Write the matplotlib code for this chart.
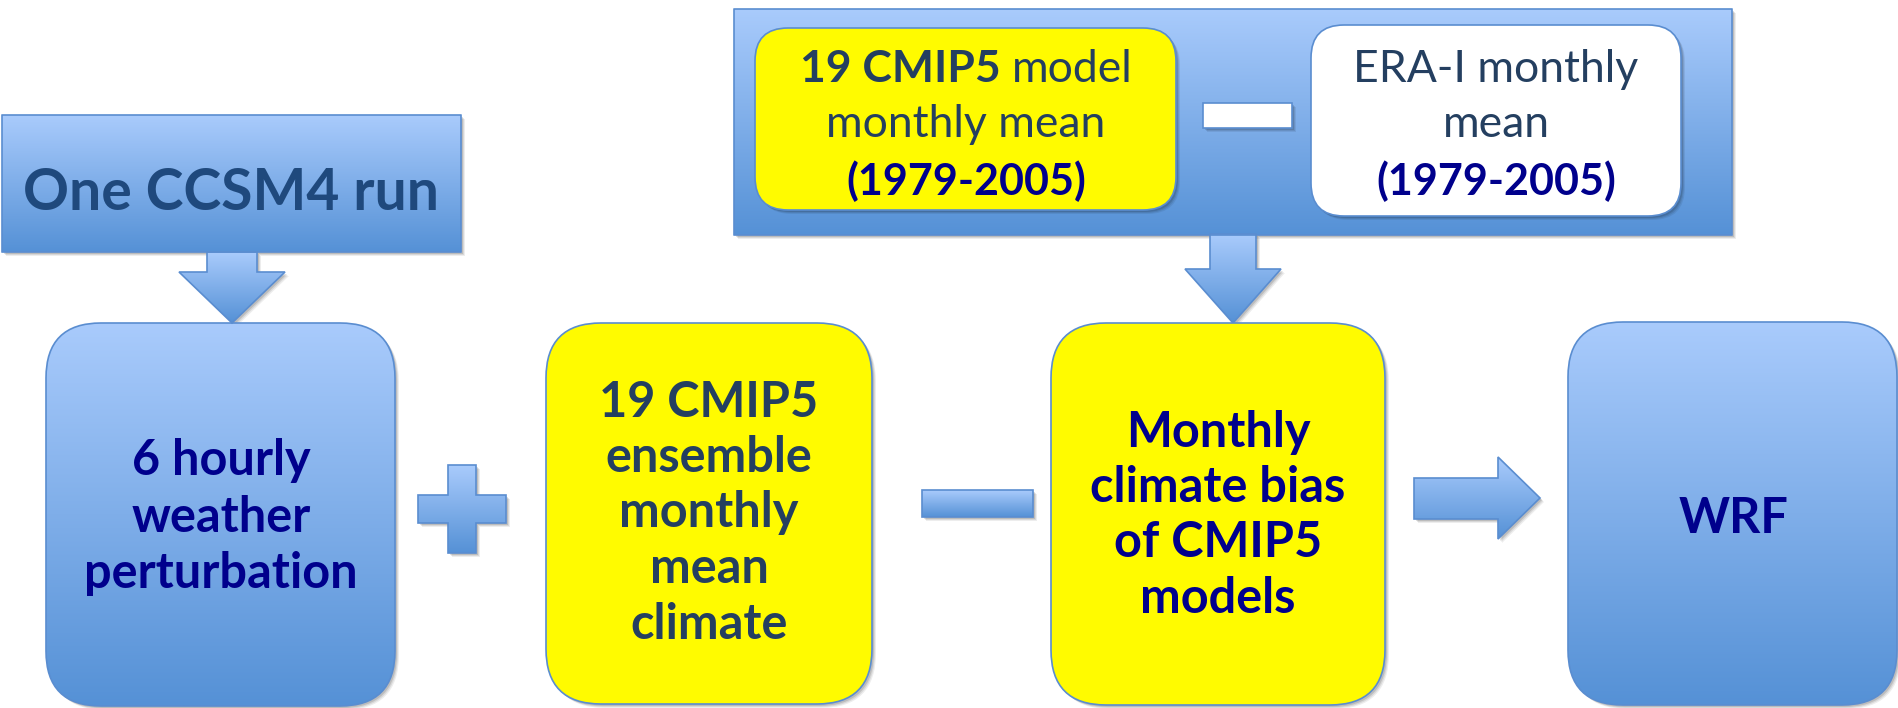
import numpy as np
import matplotlib
matplotlib.use("Agg")
import matplotlib.pyplot as plt
from matplotlib import font_manager
from matplotlib.colors import to_rgb
from matplotlib.patches import FancyBboxPatch, Polygon

# ---- text content ----
source_label = "One CCSM4 run"
weather_lines = ["6 hourly", "weather", "perturbation"]
ensemble_lines = ["19 CMIP5", "ensemble", "monthly", "mean", "climate"]
bias_lines = ["Monthly", "climate bias", "of CMIP5", "models"]
wrf_label = "WRF"
model_bold, model_rest = "19 CMIP5", "model"
model_lines = ["monthly mean", "(1979-2005)"]
era_lines = ["ERA-I monthly", "mean", "(1979-2005)"]

BLUE_TOP = "#a9cbfc"
BLUE_BOT = "#5591d6"
EDGE = "#5a8dd0"
YELLOW = "#fffb00"
NAVY = "#00008c"
SLATE = "#243f60"
HEAD = "#1f497d"


def pick_font():
    for name in ["Liberation Sans Narrow", "Lato"]:
        try:
            font_manager.findfont(name, fallback_to_default=False)
            return name
        except Exception:
            pass
    return "DejaVu Sans"


FONT = pick_font()
plt.rcParams["font.family"] = [FONT, "DejaVu Sans"]

fig = plt.figure(figsize=(18.99, 7.08), dpi=100)
ax = fig.add_axes([0, 0, 1, 1])
ax.axis("off")


def gradient(patch, bounds, top=BLUE_TOP, bot=BLUE_BOT, z=2):
    x0, y0, x1, y1 = bounds
    t = np.linspace(0, 1, 256)[:, None, None]
    img = np.array(to_rgb(top)) * (1 - t) + np.array(to_rgb(bot)) * t
    im = ax.imshow(img, extent=(x0, x1, y1, y0), origin="upper",
                   aspect="auto", interpolation="bilinear", zorder=z)
    patch.set_transform(ax.transData)
    im.set_clip_path(patch)


def shadow(make, z):
    for k, a in [(4, 0.07), (3, 0.09), (2, 0.12)]:
        p = make(k)
        p.set_facecolor("black")
        p.set_edgecolor("none")
        p.set_alpha(a)
        p.set_zorder(z - 0.5)
        ax.add_patch(p)


def rbox(x0, y0, x1, y1, r, fill=None, z=2, lw=1.2, shade=True):
    def make(d=0):
        return FancyBboxPatch((x0 + d, y0 + d), x1 - x0, y1 - y0,
                              boxstyle="round,pad=0,rounding_size=%g" % r)
    if shade:
        shadow(make, z)
    if fill is None:
        gradient(make(), (x0, y0, x1, y1), z=z)
        fc = "none"
    else:
        fc = fill
    p = make()
    p.set_facecolor(fc)
    p.set_edgecolor(EDGE)
    p.set_linewidth(lw)
    p.set_zorder(z + 0.1)
    ax.add_patch(p)


def poly(pts, fill=None, z=2, lw=1.2):
    pts = np.asarray(pts, float)

    def make(d=0):
        return Polygon(pts + d, closed=True)
    shadow(make, z)
    if fill is None:
        gradient(make(), (pts[:, 0].min(), pts[:, 1].min(),
                          pts[:, 0].max(), pts[:, 1].max()), z=z)
        fc = "none"
    else:
        fc = fill
    p = make()
    p.set_facecolor(fc)
    p.set_edgecolor(EDGE)
    p.set_linewidth(lw)
    p.set_zorder(z + 0.1)
    ax.add_patch(p)


def down_arrow(cx, y0, yh, y1, sw, hw, z=2):
    poly([(cx - sw, y0), (cx + sw, y0), (cx + sw, yh), (cx + hw, yh),
          (cx, y1), (cx - hw, yh), (cx - sw, yh)], z=z)


def lines(items, cx, baselines, size, color, weight="bold"):
    for s, yb in zip(items, baselines):
        ax.text(cx, yb, s, ha="center", va="baseline", fontsize=size,
                color=color, fontweight=weight, zorder=10)


FS = 35      # bottom row boxes
FT = 32      # top panel
FY = 31      # year ranges

# top-left source box and arrow
rbox(2, 115, 461, 252, 0.01)
ax.text(231, 210, source_label, ha="center", va="baseline", fontsize=41,
        fontweight="bold", color=HEAD, zorder=10)
down_arrow(232, 252, 272, 323, 25, 53)

# bottom row boxes
rbox(46, 323, 395, 706, 55)
lines(weather_lines, 221, [475, 532, 588], FS, NAVY)

rbox(546, 323, 872, 704, 55, fill=YELLOW)
lines(ensemble_lines, 709, [417, 472, 527, 583, 639], FS, SLATE)

rbox(1051, 323, 1385, 705, 55, fill=YELLOW)
lines(bias_lines, 1218, [447, 502, 557, 613], FS, NAVY)

rbox(1568, 322, 1897, 705, 55)
lines([wrf_label], 1734, [533], FS, NAVY)

# operators between boxes
cx, cy, a, h = 462, 509, 44, 14
poly([(cx - h, cy - a), (cx + h, cy - a), (cx + h, cy - h), (cx + a, cy - h),
      (cx + a, cy + h), (cx + h, cy + h), (cx + h, cy + a), (cx - h, cy + a),
      (cx - h, cy + h), (cx - a, cy + h), (cx - a, cy - h), (cx - h, cy - h)])
poly([(922, 490), (1033, 490), (1033, 517), (922, 517)])
poly([(1414, 478), (1498, 478), (1498, 457), (1540, 498), (1498, 539),
      (1498, 519), (1414, 519)])

# top bias computation panel
rbox(734, 9, 1732, 235, 0.01, z=1)
rbox(755, 28, 1176, 210, 33, fill=YELLOW, z=3)
rbox(1311, 25, 1681, 216, 33, fill="white", z=3)
poly([(1203, 103), (1292, 103), (1292, 128), (1203, 128)], fill="white", z=3)
down_arrow(1233, 234, 269, 323, 23, 48, z=1)

fig.canvas.draw()
r = fig.canvas.get_renderer()
tb = ax.text(0, 82, model_bold, fontsize=FT, fontweight="bold", color=SLATE,
             va="baseline", zorder=10)
tr = ax.text(0, 82, model_rest, fontsize=FT, color=SLATE, va="baseline",
             zorder=10)
wb = tb.get_window_extent(r).width
wr = tr.get_window_extent(r).width
gap = FT * 100 / 72 * 0.25
x0 = 966 - (wb + gap + wr) / 2
tb.set_x(x0)
tr.set_x(x0 + wb + gap)
lines(model_lines[:1], 966, [137], FT, SLATE, weight="normal")
lines(model_lines[1:], 966, [195], FY, NAVY)

lines(era_lines[:2], 1496, [82, 137], FT, SLATE, weight="normal")
lines(era_lines[2:], 1496, [195], FY, NAVY)

ax.set_xlim(0, 1899)
ax.set_ylim(708, 0)
fig.savefig("out.png", dpi=100)
